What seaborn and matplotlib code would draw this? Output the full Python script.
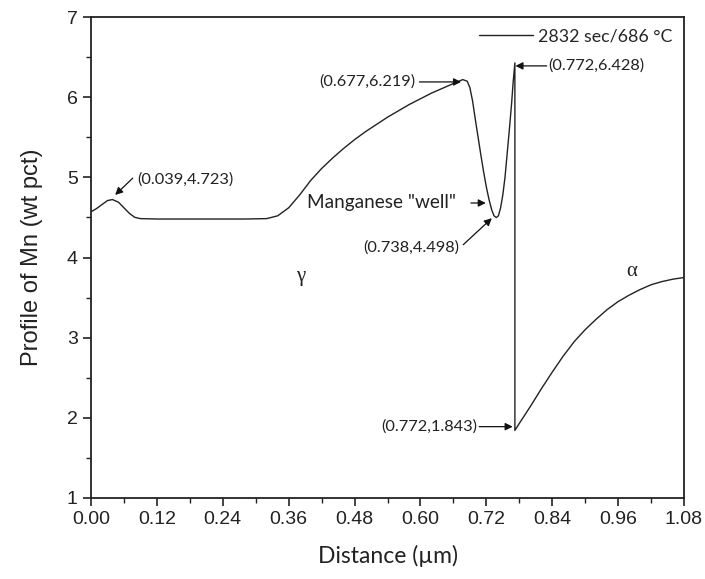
import matplotlib
matplotlib.use("Agg")
import matplotlib.pyplot as plt
import seaborn as sns
import pandas as pd
from matplotlib.ticker import MultipleLocator

# ---- data ----
distance = [0.000, 0.010, 0.020, 0.030, 0.039, 0.050, 0.060, 0.070, 0.080, 0.090,
            0.120, 0.200, 0.280, 0.320, 0.340, 0.360, 0.380, 0.400, 0.420, 0.440,
            0.460, 0.480, 0.500, 0.520, 0.540, 0.560, 0.580, 0.600, 0.620, 0.640,
            0.660, 0.677, 0.685, 0.690, 0.695, 0.700, 0.705, 0.710, 0.715, 0.720,
            0.725, 0.730, 0.734, 0.738, 0.742, 0.746, 0.750, 0.754, 0.758, 0.762,
            0.766, 0.769, 0.772, 0.772, 0.780, 0.800, 0.820, 0.840, 0.860, 0.880,
            0.900, 0.920, 0.940, 0.960, 0.980, 1.000, 1.020, 1.040, 1.060, 1.080]
mn_profile = [4.57, 4.61, 4.66, 4.71, 4.723, 4.69, 4.62, 4.55, 4.50, 4.485,
              4.48, 4.48, 4.48, 4.485, 4.52, 4.62, 4.78, 4.96, 5.11, 5.24,
              5.36, 5.47, 5.57, 5.66, 5.75, 5.83, 5.91, 5.98, 6.05, 6.11,
              6.17, 6.219, 6.20, 6.12, 5.95, 5.72, 5.50, 5.28, 5.07, 4.88,
              4.72, 4.59, 4.52, 4.498, 4.52, 4.62, 4.78, 5.00, 5.30, 5.60,
              5.92, 6.20, 6.428, 1.843, 1.93, 2.14, 2.36, 2.57, 2.77, 2.95,
              3.10, 3.23, 3.35, 3.45, 3.53, 3.60, 3.66, 3.70, 3.73, 3.75]
series_label = "2832 sec/686 °C"
x_ticks = [0.00, 0.12, 0.24, 0.36, 0.48, 0.60, 0.72, 0.84, 0.96, 1.08]
y_ticks = [1, 2, 3, 4, 5, 6, 7]

df = pd.DataFrame({"Distance": distance, "Mn": mn_profile})

sns.set_theme(style="ticks")
plt.rcParams["font.family"] = ["Liberation Sans", "DejaVu Sans"]

fig = plt.figure(figsize=(7.05, 5.79), dpi=100)
ax = fig.add_axes([91 / 705, 1 - 498 / 579, (684 - 91) / 705, (498 - 17) / 579])

sns.lineplot(data=df, x="Distance", y="Mn", sort=False, estimator=None,
             color="#222222", linewidth=1.0, ax=ax, label=series_label)

ax.set_xlim(0, 1.08)
ax.set_ylim(1, 7)
ax.set_xticks(x_ticks)
ax.set_xticklabels([f"{t:.2f}" for t in x_ticks])
ax.set_yticks(y_ticks)
ax.xaxis.set_minor_locator(MultipleLocator(0.06))
ax.yaxis.set_minor_locator(MultipleLocator(0.5))
ax.tick_params(which="major", direction="out", length=6, width=1.2,
               labelsize=14, color="#222222", labelcolor="#222222")
ax.tick_params(which="minor", direction="out", length=3.5, width=1.0, color="#222222")
for s in ax.spines.values():
    s.set_linewidth(1.3)
    s.set_color("#222222")

ax.set_xlabel("Distance (µm)", fontsize=16.5, family=["Lato", "DejaVu Sans"],
              color="#222222", labelpad=12)
ax.set_ylabel("Profile of Mn (wt pct)", fontsize=17, color="#222222", labelpad=17)

leg = ax.legend(loc="upper right", frameon=False, handlelength=3.0,
                handletextpad=0.3, borderaxespad=0.25,
                prop={"family": ["Lato", "DejaVu Sans"], "size": 12.8})

afont = dict(fontsize=11.8, family=["Lato", "DejaVu Sans"], color="#222222")
arrow = dict(arrowstyle="-|>", color="#111111", lw=0.9,
             mutation_scale=11, shrinkA=0, shrinkB=0)

# (0.039,4.723)
ax.text(0.084, 4.97, "(0.039,4.723)", ha="left", va="center", **afont)
ax.annotate("", xy=(0.044, 4.78), xytext=(0.076, 4.99), arrowprops=arrow)
# (0.677,6.219)
ax.text(0.415, 6.19, "(0.677,6.219)", ha="left", va="center", **afont)
ax.annotate("", xy=(0.674, 6.19), xytext=(0.598, 6.19), arrowprops=arrow)
# (0.772,6.428)
ax.text(0.833, 6.39, "(0.772,6.428)", ha="left", va="center", **afont)
ax.annotate("", xy=(0.773, 6.39), xytext=(0.830, 6.39), arrowprops=arrow)
# Manganese "well"
ax.text(0.393, 4.68, 'Manganese "well"', ha="left", va="center",
        fontsize=13.7, family=["Lato", "DejaVu Sans"], color="#222222")
ax.annotate("", xy=(0.719, 4.68), xytext=(0.692, 4.68), arrowprops=arrow)
# (0.738,4.498)
ax.text(0.495, 4.13, "(0.738,4.498)", ha="left", va="center", **afont)
ax.annotate("", xy=(0.730, 4.49), xytext=(0.678, 4.16), arrowprops=arrow)
# (0.772,1.843)
ax.text(0.704, 1.89, "(0.772,1.843)", ha="right", va="center", **afont)
ax.annotate("", xy=(0.768, 1.89), xytext=(0.707, 1.89), arrowprops=arrow)

# phase labels
ax.text(0.381, 3.76, "γ", ha="center", va="center", fontsize=15,
        family=["Liberation Serif", "DejaVu Serif"], color="#222222")
ax.text(0.985, 3.82, "α", ha="center", va="center", fontsize=15,
        family=["Liberation Serif", "DejaVu Serif"], color="#222222")

fig.savefig("out.png", dpi=100, facecolor="white")
